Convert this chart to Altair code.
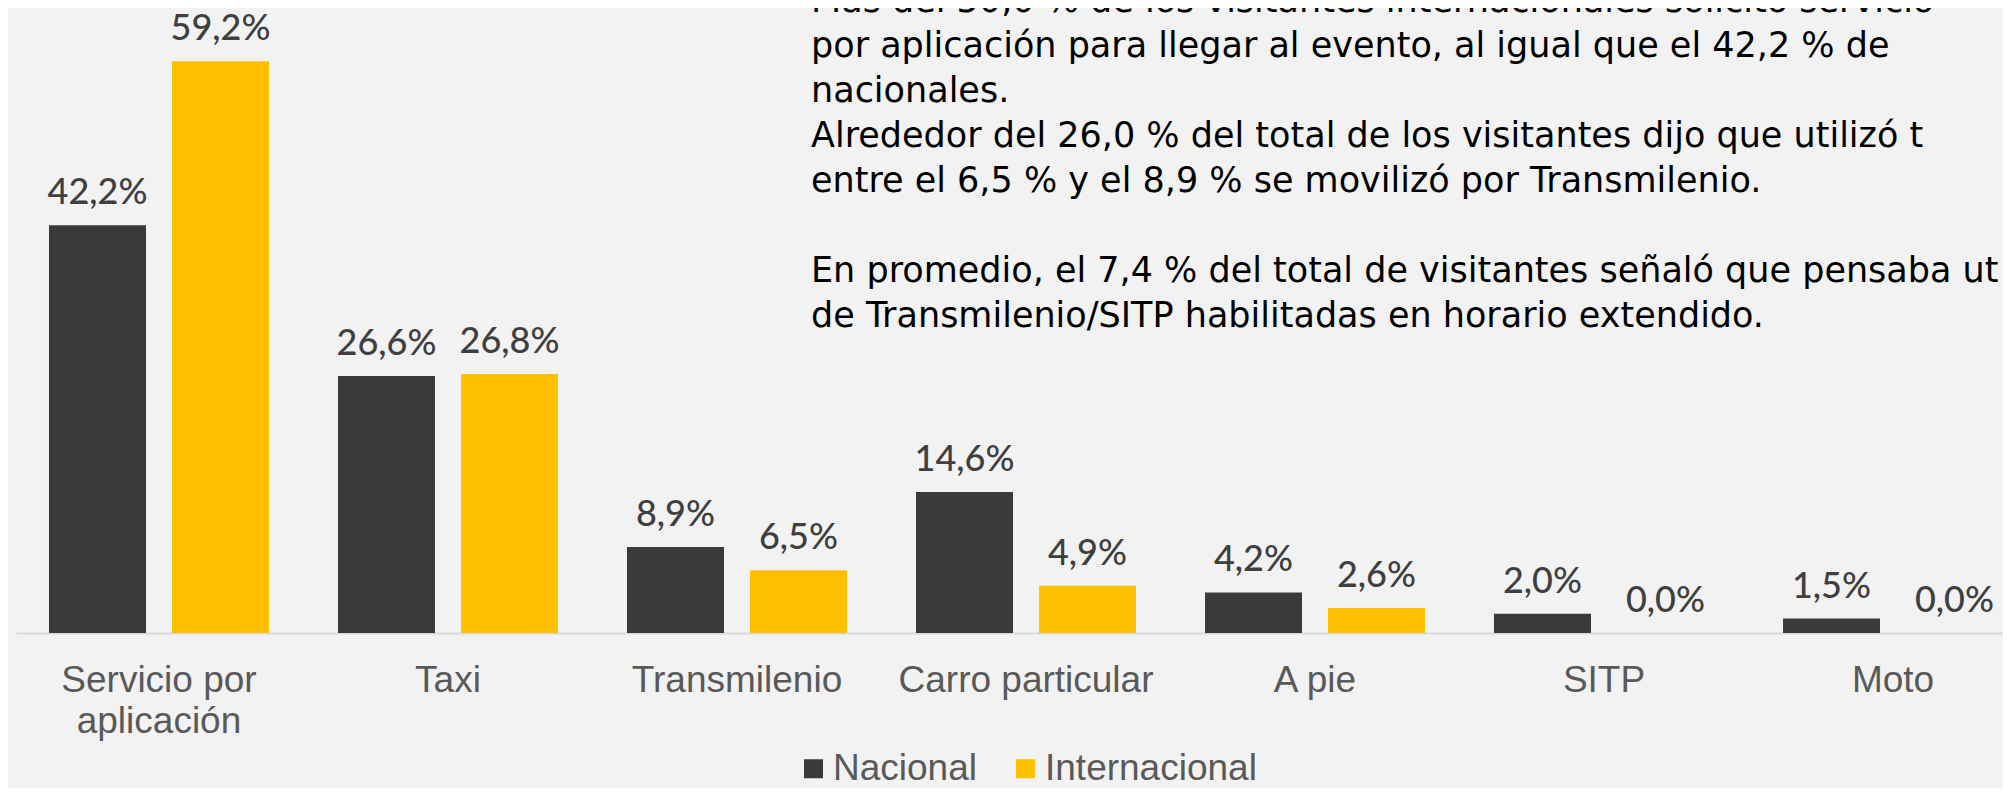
import altair as alt
import pandas as pd

# ---- data ----
categorias = ["Servicio por aplicación", "Taxi", "Transmilenio", "Carro particular", "A pie", "SITP", "Moto"]
nacional = [42.2, 26.6, 8.9, 14.6, 4.2, 2.0, 1.5]
internacional = [59.2, 26.8, 6.5, 4.9, 2.6, 0.0, 0.0]
series = ["Nacional", "Internacional"]
colores = ["#3B3A38", "#FFC000"]
lineas_eje = {"Servicio por aplicación": ["Servicio por", "aplicación"]}
parrafo_1 = [
    "Más del 50,0 % de los visitantes internacionales solicitó servicio",
    "por aplicación para llegar al evento, al igual que el 42,2 % de",
    "nacionales.",
    "Alrededor del 26,0 % del total de los visitantes dijo que utilizó t",
    "entre el 6,5 % y el 8,9 % se movilizó por Transmilenio.",
]
parrafo_2 = [
    "En promedio, el 7,4 % del total de visitantes señaló que pensaba ut",
    "de Transmilenio/SITP habilitadas en horario extendido.",
]

rows = []
for c, n, i in zip(categorias, nacional, internacional):
    rows.append({"categoria": c, "serie": series[0], "valor": n})
    rows.append({"categoria": c, "serie": series[1], "valor": i})
df = pd.DataFrame(rows)
df["etiqueta"] = df["valor"].map(lambda v: f"{v:.1f}".replace(".", ",") + "%")

label_expr = " : ".join(
    [f"datum.label == '{k}' ? {v!r}" for k, v in lineas_eje.items()] + ["datum.label"]
)

x = alt.X(
    "categoria:N",
    sort=categorias,
    title=None,
    scale=alt.Scale(paddingInner=0.2388, paddingOuter=0.0571, align=1),
    axis=alt.Axis(
        labelAngle=0, ticks=False, tickSize=0, domainColor="#D9D9D9", domainWidth=2,
        labelFont="Liberation Sans", labelFontSize=37, labelColor="#595959",
        labelPadding=29, labelLineHeight=41, labelLimit=600, labelOverlap=False,
        labelFlush=False, labelExpr=label_expr,
    ),
)
xo = alt.XOffset("serie:N", sort=series, scale=alt.Scale(paddingInner=0.2114, paddingOuter=0))
y = alt.Y("valor:Q", scale=alt.Scale(domain=[0, 64.7], nice=False, zero=True), axis=None)

base = alt.Chart(df)

bars = base.mark_bar().encode(
    x=x, xOffset=xo, y=y,
    color=alt.Color(
        "serie:N",
        sort=series,
        scale=alt.Scale(domain=series, range=colores),
        legend=alt.Legend(
            orient="none", legendX=779, legendY=742, direction="horizontal", title=None,
            symbolType="square", symbolSize=361, symbolStrokeWidth=0, symbolOpacity=1,
            labelFont="Liberation Sans", labelFontSize=37, labelColor="#595959",
            labelOffset=1, columnPadding=30, padding=0, labelLimit=400,
        ),
    ),
)

labels = base.mark_text(
    baseline="alphabetic", dy=-21, font="Lato", fontSize=36, fontWeight=500, color="#3F3F3F"
).encode(x=x, xOffset=xo, y=y, text="etiqueta:N")

texto_1 = alt.Chart(pd.DataFrame({"k": [0]})).mark_text(
    align="left", baseline="alphabetic", font="DejaVu Sans", fontSize=35,
    color="#000000", lineHeight=45,
).encode(x=alt.value(795), y=alt.value(3.5), text=alt.value(parrafo_1))

texto_2 = alt.Chart(pd.DataFrame({"k": [0]})).mark_text(
    align="left", baseline="alphabetic", font="DejaVu Sans", fontSize=35,
    color="#000000", lineHeight=45,
).encode(x=alt.value(795), y=alt.value(273.5), text=alt.value(parrafo_2))

chart = (
    alt.layer(bars, labels, texto_1, texto_2)
    .properties(
        width=1987, height=625,
        autosize=alt.AutoSizeParams(type="none"),
        padding={"left": 8, "top": 0, "right": 0, "bottom": 155},
        background="#F2F2F2",
    )
    .configure_view(strokeWidth=0)
)

chart.save("out.html", embed_options={"renderer": "svg", "actions": False})
